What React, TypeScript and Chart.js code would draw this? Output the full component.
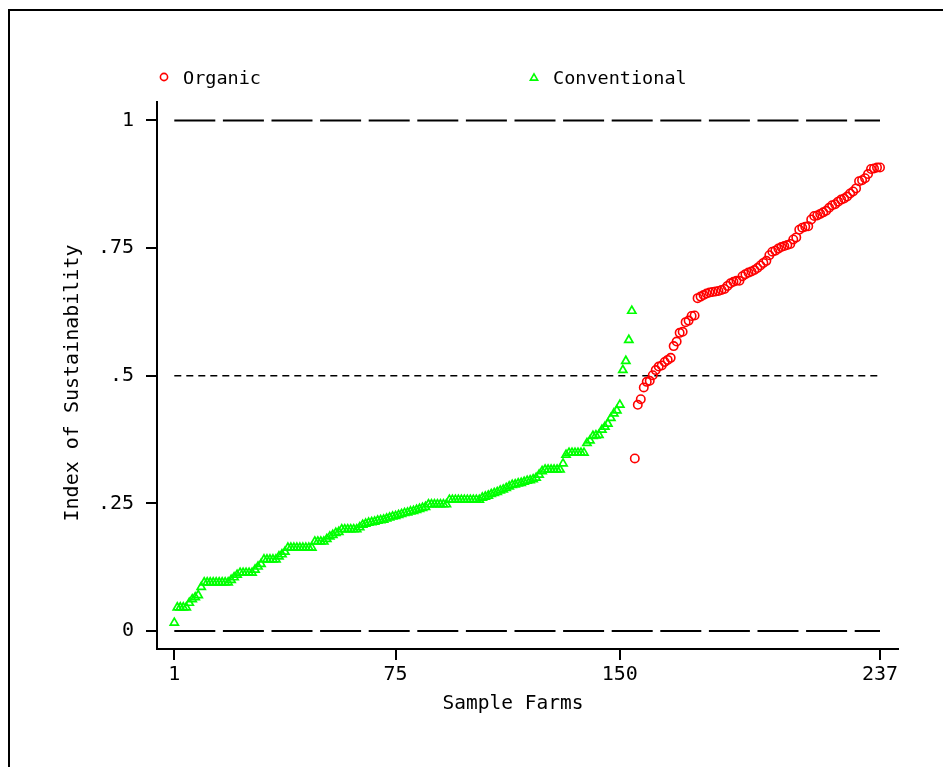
import React, { useEffect, useRef } from 'react';
import { Chart, registerables } from 'chart.js';

Chart.register(...registerables);

// ---- Data ----
const seriesNames = ['Organic', 'Conventional'];
const conventionalFirstFarm = 1;
const organicFirstFarm = 155;

// Index of sustainability, conventional farms ranked 1..154
const conventional = [
  0.016,
  0.046, 0.046, 0.046, 0.046,
  0.055, 0.062, 0.066, 0.070,
  0.086,
  0.095, 0.095, 0.095, 0.095, 0.095, 0.095, 0.095, 0.095, 0.095,
  0.100, 0.105, 0.110,
  0.114, 0.114, 0.114, 0.114, 0.114,
  0.120, 0.126, 0.131,
  0.140, 0.140, 0.140, 0.140, 0.140,
  0.146, 0.150, 0.155,
  0.163, 0.163, 0.163, 0.163, 0.163, 0.163, 0.163, 0.163, 0.163,
  0.175, 0.175, 0.175, 0.175,
  0.180, 0.185, 0.188, 0.192, 0.194,
  0.199, 0.199, 0.199, 0.199, 0.199, 0.199,
  0.203, 0.208, 0.210, 0.212, 0.213, 0.214, 0.216, 0.217, 0.218, 0.220,
  0.222, 0.224, 0.225, 0.227, 0.229, 0.231, 0.232, 0.234, 0.235, 0.237,
  0.239, 0.241, 0.243,
  0.248, 0.248, 0.248, 0.248, 0.248, 0.248, 0.248,
  0.257, 0.257, 0.257, 0.257, 0.257, 0.257, 0.257, 0.257, 0.257, 0.257, 0.257,
  0.261, 0.263, 0.265, 0.268, 0.270, 0.272, 0.275, 0.277, 0.280, 0.283,
  0.286, 0.287, 0.289, 0.290, 0.292, 0.294, 0.295, 0.297, 0.300,
  0.306, 0.313,
  0.316, 0.316, 0.316, 0.316, 0.316, 0.316,
  0.328, 0.345,
  0.349, 0.349, 0.349, 0.349, 0.349, 0.349,
  0.368, 0.373, 0.382, 0.383, 0.384, 0.394, 0.400, 0.406, 0.417, 0.426,
  0.432, 0.443,
  0.511, 0.529, 0.570, 0.627,
];

// Index of sustainability, organic farms ranked 155..237
const organic = [
  0.338,
  0.443, 0.454, 0.477, 0.488, 0.490, 0.501, 0.511, 0.518, 0.520, 0.527,
  0.531, 0.535, 0.558, 0.567, 0.584, 0.586, 0.605, 0.608, 0.617, 0.618,
  0.652,
  0.655, 0.658, 0.661, 0.663, 0.664, 0.665, 0.666, 0.668, 0.670, 0.676,
  0.681, 0.684, 0.686, 0.686, 0.695, 0.699, 0.702, 0.704, 0.707, 0.711,
  0.716, 0.721, 0.725, 0.736, 0.743, 0.745, 0.749, 0.752, 0.754, 0.756,
  0.758, 0.767, 0.771, 0.786, 0.790, 0.792, 0.793, 0.806, 0.813, 0.814,
  0.817, 0.820, 0.823, 0.829, 0.834, 0.836, 0.841, 0.845, 0.847, 0.851,
  0.857, 0.861, 0.867, 0.881, 0.883, 0.887, 0.895, 0.905, 0.906, 0.908,
  0.908,
];

const xTickValues = [1, 75, 150, 237];
const yTickValues = [0, 0.25, 0.5, 0.75, 1];
const yTickLabels = ['0', '.25', '.5', '.75', '1'];
const referenceLevelsLong = [0, 1];
const referenceLevelsShort = [0.5];
const xTitle = 'Sample Farms';
const yTitle = 'Index of Sustainability';

const FONT = "'DejaVu Sans Mono', 'Liberation Mono', monospace";
const RED = '#ff0000';
const GREEN = '#00ff00';

function drawTriangle(ctx: CanvasRenderingContext2D, x: number, y: number, r: number) {
  const s = Math.sin((2 * Math.PI) / 3) * r;
  ctx.beginPath();
  ctx.moveTo(x, y - r);
  ctx.lineTo(x + s, y + r / 2);
  ctx.lineTo(x - s, y + r / 2);
  ctx.closePath();
  ctx.stroke();
}

export default function App() {
  const canvasRef = useRef<HTMLCanvasElement>(null);

  useEffect(() => {
    document.body.style.margin = '0';
    const canvas = canvasRef.current;
    if (!canvas) return;

    const decor = {
      id: 'decor',
      beforeDraw(chart: any) {
        const ctx: CanvasRenderingContext2D = chart.ctx;
        ctx.save();
        ctx.fillStyle = '#ffffff';
        ctx.fillRect(0, 0, chart.width, chart.height);
        ctx.strokeStyle = '#000';
        ctx.lineWidth = 2;
        ctx.beginPath();
        ctx.moveTo(9, chart.height);
        ctx.lineTo(9, 10);
        ctx.lineTo(chart.width, 10);
        ctx.stroke();
        ctx.restore();
      },
      afterDraw(chart: any) {
        const ctx: CanvasRenderingContext2D = chart.ctx;
        ctx.save();
        ctx.fillStyle = '#000';
        ctx.textAlign = 'left';
        ctx.textBaseline = 'alphabetic';
        ctx.font = `18.5px ${FONT}`;
        // legend
        ctx.lineWidth = 1.6;
        ctx.strokeStyle = RED;
        ctx.beginPath();
        ctx.arc(164, 77, 3.6, 0, Math.PI * 2);
        ctx.stroke();
        ctx.fillText(seriesNames[0], 183, 84);
        ctx.strokeStyle = GREEN;
        drawTriangle(ctx, 534, 78, 4.2);
        ctx.fillText(seriesNames[1], 553, 84);
        // axis titles
        ctx.textAlign = 'center';
        ctx.font = `19.5px ${FONT}`;
        ctx.fillText(xTitle, 513, 709);
        ctx.translate(78, 383);
        ctx.rotate(-Math.PI / 2);
        ctx.font = `20px ${FONT}`;
        ctx.fillText(yTitle, 0, 0);
        ctx.restore();
      },
    };

    const refLine = (level: number, dash: number[], width: number) => ({
      type: 'line' as const,
      data: [
        { x: xTickValues[0], y: level },
        { x: xTickValues[xTickValues.length - 1], y: level },
      ],
      showLine: true,
      borderColor: '#000',
      borderWidth: width,
      borderDash: dash,
      pointRadius: 0,
      fill: false,
      order: 5,
    });

    const chart = new Chart(canvas, {
      type: 'scatter',
      data: {
        datasets: [
          ...referenceLevelsLong.map((l) => refLine(l, [41, 7.6], 2)),
          ...referenceLevelsShort.map((l) => refLine(l, [7, 5], 1.5)),
          {
            label: seriesNames[1],
            data: conventional.map((v, i) => ({ x: conventionalFirstFarm + i, y: v })),
            pointStyle: 'triangle',
            pointRadius: 4.7,
            borderColor: GREEN,
            backgroundColor: 'rgba(0,0,0,0)',
            borderWidth: 1.7,
            order: 1,
          },
          {
            label: seriesNames[0],
            data: organic.map((v, i) => ({ x: organicFirstFarm + i, y: v })),
            pointStyle: 'circle',
            pointRadius: 4.2,
            borderColor: RED,
            backgroundColor: 'rgba(0,0,0,0)',
            borderWidth: 1.6,
            order: 1,
          },
        ] as any,
      },
      options: {
        animation: false,
        responsive: false,
        events: [],
        layout: { padding: { left: 0, top: 102, right: 45, bottom: 0 } },
        plugins: {
          legend: { display: false },
          tooltip: { enabled: false },
          title: { display: false },
        },
        scales: {
          x: {
            type: 'linear',
            min: -4.785,
            max: 243.02,
            afterFit: (s: any) => {
              s.height = 118;
            },
            afterBuildTicks: (s: any) => {
              s.ticks = xTickValues.map((v) => ({ value: v }));
            },
            ticks: {
              autoSkip: false,
              maxRotation: 0,
              padding: 3,
              color: '#000',
              font: { family: FONT, size: 20 },
              callback: (v: any) => String(v),
            },
            grid: {
              drawOnChartArea: false,
              drawTicks: true,
              tickLength: 11,
              color: '#000',
              lineWidth: 2,
            },
            border: { display: true, color: '#000', width: 2 },
          },
          y: {
            type: 'linear',
            min: -0.0353,
            max: 1.0362,
            afterFit: (s: any) => {
              s.width = 157;
            },
            afterBuildTicks: (s: any) => {
              s.ticks = yTickValues.map((v) => ({ value: v }));
            },
            ticks: {
              autoSkip: false,
              padding: 12,
              color: '#000',
              font: { family: FONT, size: 20 },
              callback: (v: any) => {
                const i = yTickValues.indexOf(Number(v));
                return i >= 0 ? yTickLabels[i] : '';
              },
            },
            grid: {
              drawOnChartArea: false,
              drawTicks: true,
              tickLength: 11,
              color: '#000',
              lineWidth: 2,
            },
            border: { display: true, color: '#000', width: 2 },
          },
        },
      },
      plugins: [decor],
    });

    return () => chart.destroy();
  }, []);

  return (
    <div style={{ position: 'absolute', left: 0, top: 0, width: 943, height: 767, background: '#fff' }}>
      <canvas ref={canvasRef} width={943} height={767} style={{ display: 'block' }} />
    </div>
  );
}
